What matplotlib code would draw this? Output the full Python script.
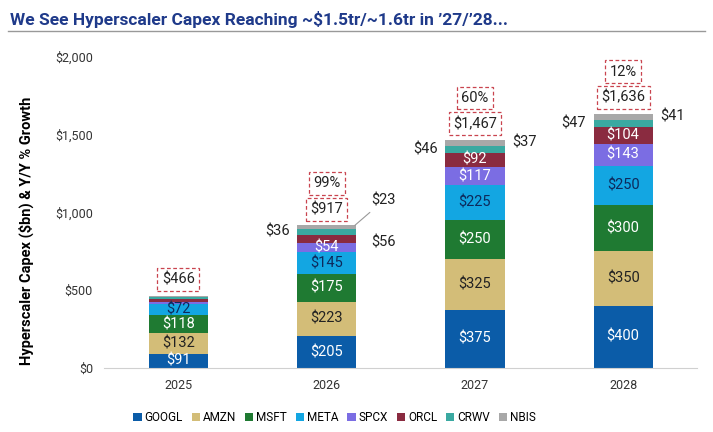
import matplotlib.pyplot as plt
import numpy as np

# data ($bn)
years = ['2025', '2026', '2027', '2028']
companies = ['GOOGL', 'AMZN', 'MSFT', 'META', 'SPCX', 'ORCL', 'CRWV', 'NBIS']
googl = [91, 205, 375, 400]
amzn = [132, 223, 325, 350]
msft = [118, 175, 250, 300]
meta = [72, 145, 225, 250]
spcx = [12, 54, 117, 143]
orcl = [21, 56, 92, 104]
crwv = [14, 36, 46, 47]
nbis = [6, 23, 37, 41]
totals = [466, 917, 1467, 1636]
growth = ['', '99%', '60%', '12%']

colors = ['#0b5ca8', '#d3bd78', '#1f7a32', '#13a6e2', '#7b6de3', '#8a2b40', '#3aa9a1', '#a8a8a8']
txt_colors = ['white', '#222222', 'white', '#0d2a5c', 'white', 'white', 'white', 'white']

plt.rcParams['font.family'] = ['Roboto', 'DejaVu Sans']

series = [googl, amzn, msft, meta, spcx, orcl, crwv, nbis]

fig = plt.figure(figsize=(7.13, 4.32), dpi=100)
ax = fig.add_axes([0.146, 0.148, 0.832, 0.72])

x = np.arange(len(years))
width = 0.4
bottom = np.zeros(len(years))
for i, (name, vals) in enumerate(zip(companies, series)):
    vals = np.array(vals, dtype=float)
    ax.bar(x, vals, width, bottom=bottom, color=colors[i], label=name, linewidth=0)
    for j in range(len(years)):
        v = vals[j]
        yc = bottom[j] + v / 2
        if j == 0 and i >= 4:
            pass
        elif name == 'CRWV':
            ax.text(x[j] - width / 2 - 0.05, yc, f'${v:.0f}', ha='right', va='center',
                    fontsize=10.5, color='#222222')
        elif name == 'NBIS':
            if j == 1:
                ax.annotate(f'${v:.0f}', xy=(x[j] + width / 2 - 0.01, bottom[j] + v),
                            xytext=(x[j] + width / 2 + 0.1, yc + 170),
                            ha='left', va='center', fontsize=10.5, color='#222222',
                            arrowprops=dict(arrowstyle='-', color='#999999', lw=0.8,
                                            shrinkA=2, shrinkB=0))
            else:
                ax.text(x[j] + width / 2 + 0.05, yc, f'${v:.0f}', ha='left', va='center',
                        fontsize=10.5, color='#222222')
        elif name == 'ORCL' and j == 1:
            ax.text(x[j] + width / 2 + 0.1, yc - 20, f'${v:.0f}', ha='left', va='center',
                    fontsize=10.5, color='#222222')
        else:
            ax.text(x[j], yc, f'${v:.0f}', ha='center', va='center',
                    fontsize=10.5, color=txt_colors[i])
    bottom += vals

box = dict(boxstyle='square,pad=0.3', facecolor='white', edgecolor='#c9444f',
           linestyle=(0, (3, 2)), linewidth=0.9)
for j in range(len(years)):
    ax.annotate(f'${totals[j]:,}', xy=(x[j], totals[j]), xytext=(0, 16),
                textcoords='offset pixels', ha='center', va='center',
                fontsize=10.5, color='#222222', bbox=box)
    if growth[j]:
        ax.annotate(growth[j], xy=(x[j], totals[j]), xytext=(0, 42),
                    textcoords='offset pixels', ha='center', va='center',
                    fontsize=10.5, color='#222222', bbox=box)

ax.set_xlim(-0.5, 3.5)
ax.set_ylim(0, 2000)
ax.set_xticks(x)
ax.set_xticklabels(years, fontsize=9, color='#333333')
ax.set_yticks([0, 500, 1000, 1500, 2000])
ax.set_yticklabels(['$0', '$500', '$1,000', '$1,500', '$2,000'], fontsize=9, color='#333333')
ax.tick_params(length=0, pad=8)
for s in ['top', 'right', 'left']:
    ax.spines[s].set_visible(False)
ax.spines['bottom'].set_color('#d0d0d0')
ax.set_ylabel('Hyperscaler Capex ($bn) & Y/Y % Growth', fontsize=10.5, fontweight='bold',
              labelpad=14)
ax.yaxis.set_label_coords(-0.118, 0.44)

fig.text(0.014, 0.955, "We See Hyperscaler Capex Reaching ~$1.5tr/~1.6tr in \u201927/\u201928...",
         fontsize=12.5, fontweight='bold', color='#1f3a8a', va='center')
fig.add_artist(plt.Line2D([0.011, 0.989], [0.928, 0.928], color='#999999', lw=1))

fig.legend(loc='center left', bbox_to_anchor=(0.172, 0.033), ncol=8, frameon=False,
           fontsize=8.5, handlelength=0.7, handleheight=0.7, handletextpad=0.25,
           columnspacing=0.75)

fig.savefig('out.png', dpi=100)
